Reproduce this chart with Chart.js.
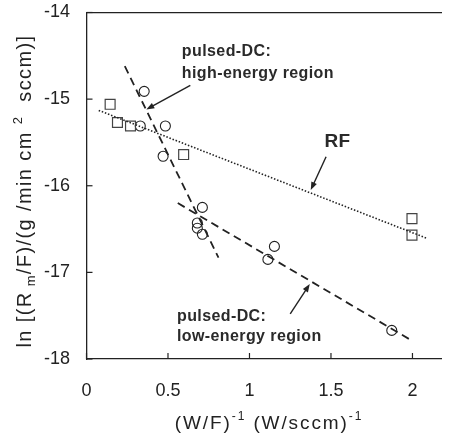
<!DOCTYPE html>
<html><head><meta charset="utf-8">
<script src="https://cdn.jsdelivr.net/npm/chart.js@4/dist/chart.umd.min.js"></script>
<style>html,body{margin:0;padding:0;background:#fff}</style>
</head><body><canvas id="c" width="450" height="438"></canvas>
<script>
// ---- data ----
const rfX = [0.145, 0.19, 0.27, 0.596, 1.997, 1.997];
const rfY = [-15.06, -15.27, -15.31, -15.64, -16.38, -16.57];
const dcX = [0.354, 0.33, 0.484, 0.47, 0.711, 0.68, 0.68, 0.711, 1.153, 1.113, 1.873];
const dcY = [-14.91, -15.31, -15.31, -15.66, -16.25, -16.43, -16.49, -16.56, -16.70, -16.85, -17.67];
const rfFitX = [0.075, 2.093];
const rfFitY = [-15.13, -16.61];
const hiFitX = [0.235, 0.81];
const hiFitY = [-14.62, -16.83];
const loFitX = [0.56, 1.98];
const loFitY = [-16.20, -17.77];
const xTicks = [0, 0.5, 1, 1.5, 2];
const yTicks = [-14, -15, -16, -17, -18];
const noteText = ["pulsed-DC:", "high-energy region", "RF", "pulsed-DC:", "low-energy region"];
const noteX = [0.585, 0.585, 1.46, 0.555, 0.555];
const noteY = [-14.453, -14.70, -15.49, -17.513, -17.744];
const noteSize = [16, 16, 19, 16, 16];
const arrowFromX = [0.637, 1.470, 1.250];
const arrowFromY = [-14.84, -15.665, -17.48];
const arrowToX = [0.367, 1.376, 1.370];
const arrowToY = [-15.12, -16.05, -17.135];

const pts = (xs, ys) => xs.map((x, i) => ({x, y: ys[i]}));
const FONT = "'Liberation Sans', Arial, sans-serif";
const INK = '#222';

const overlay = {
  id: 'overlay',
  afterDraw(chart) {
    const ctx = chart.ctx, xs = chart.scales.x, ys = chart.scales.y, a = chart.chartArea;
    ctx.save();
    // inward tick marks
    ctx.strokeStyle = INK; ctx.lineWidth = 1.2;
    xTicks.forEach(v => { const p = xs.getPixelForValue(v); ctx.beginPath(); ctx.moveTo(p, a.bottom); ctx.lineTo(p, a.bottom - 6); ctx.stroke(); });
    yTicks.forEach(v => { const p = ys.getPixelForValue(v); ctx.beginPath(); ctx.moveTo(a.left, p); ctx.lineTo(a.left + 6, p); ctx.stroke(); });
    // arrows
    ctx.fillStyle = INK; ctx.lineWidth = 1.4;
    arrowFromX.forEach((fx, i) => {
      const x0 = xs.getPixelForValue(fx), y0 = ys.getPixelForValue(arrowFromY[i]);
      const x1 = xs.getPixelForValue(arrowToX[i]), y1 = ys.getPixelForValue(arrowToY[i]);
      const ang = Math.atan2(y1 - y0, x1 - x0), L = 8, W = 3;
      ctx.beginPath(); ctx.moveTo(x0, y0); ctx.lineTo(x1 - L * 0.8 * Math.cos(ang), y1 - L * 0.8 * Math.sin(ang)); ctx.stroke();
      ctx.beginPath(); ctx.moveTo(x1, y1);
      ctx.lineTo(x1 - L * Math.cos(ang) + W * Math.sin(ang), y1 - L * Math.sin(ang) - W * Math.cos(ang));
      ctx.lineTo(x1 - L * Math.cos(ang) - W * Math.sin(ang), y1 - L * Math.sin(ang) + W * Math.cos(ang));
      ctx.closePath(); ctx.fill();
    });
    // annotations
    ctx.fillStyle = '#2a2a2a'; ctx.textAlign = 'left'; ctx.textBaseline = 'middle';
    ctx.letterSpacing = '0.4px';
    noteText.forEach((t, i) => {
      ctx.font = `bold ${noteSize[i]}px ${FONT}`;
      ctx.fillText(t, xs.getPixelForValue(noteX[i]), ys.getPixelForValue(noteY[i]));
    });
    // axis titles with sub/superscripts
    const drawRich = (segs, cx, cy, rot, ls) => {
      ctx.save(); ctx.translate(cx, cy); ctx.rotate(rot);
      ctx.textAlign = 'left'; ctx.textBaseline = 'alphabetic'; ctx.fillStyle = INK;
      ctx.letterSpacing = ls;
      let total = 0;
      segs.forEach(s => { ctx.font = `${s.size}px ${FONT}`; total += ctx.measureText(s.t).width; });
      let x = -total / 2;
      segs.forEach(s => { ctx.font = `${s.size}px ${FONT}`; ctx.fillText(s.t, x, s.dy || 0); x += ctx.measureText(s.t).width; });
      ctx.restore();
    };
    drawRich([{t: '(W/F)', size: 19}, {t: '-1', size: 12, dy: -9}, {t: ' (W/sccm)', size: 19}, {t: '-1', size: 12, dy: -9}], 269, 429, 0, '1.9px');
    drawRich([{t: 'ln [(R', size: 20}, {t: ' m', size: 13, dy: 4}, {t: '/F)/(g /min cm ', size: 20}, {t: '2', size: 13, dy: -9}, {t: '  sccm)]', size: 20}], 31, 191, -Math.PI / 2, '1.4px');
    ctx.restore();
  }
};

const zeroPad = s => { s.paddingTop = 0; s.paddingBottom = 0; s.paddingLeft = 0; s.paddingRight = 0; };

new Chart(document.getElementById('c'), {
  type: 'scatter',
  data: {
    datasets: [
      {data: pts(rfFitX, rfFitY), showLine: true, pointRadius: 0, borderColor: INK, borderWidth: 1.6, borderDash: [1.5, 1.8]},
      {data: pts(hiFitX, hiFitY), showLine: true, pointRadius: 0, borderColor: INK, borderWidth: 1.8, borderDash: [8, 5]},
      {data: pts(loFitX, loFitY), showLine: true, pointRadius: 0, borderColor: INK, borderWidth: 1.8, borderDash: [8, 5]},
      {data: pts(rfX, rfY), pointStyle: 'rect', pointRadius: 7, borderColor: '#444', borderWidth: 1.2, backgroundColor: 'rgba(0,0,0,0)'},
      {data: pts(dcX, dcY), pointStyle: 'circle', pointRadius: 5, borderColor: INK, borderWidth: 1.1, backgroundColor: 'rgba(0,0,0,0)'}
    ]
  },
  options: {
    responsive: false, animation: false, devicePixelRatio: 1,
    layout: {padding: {top: 12.5, right: 0, left: 0, bottom: 0}},
    plugins: {legend: {display: false}, tooltip: {enabled: false}},
    scales: {
      x: {type: 'linear', position: 'bottom', min: 0, max: 2.18,
          afterBuildTicks: s => { s.ticks = xTicks.map(v => ({value: v})); },
          afterFit: s => { s.height = 79; zeroPad(s); },
          grid: {display: false, drawTicks: false},
          border: {display: true, color: INK, width: 1.3},
          ticks: {font: {size: 18, family: FONT}, color: INK, padding: 21, maxRotation: 0, autoSkip: false,
                  callback: v => String(v)}},
      x2: {type: 'linear', position: 'top', min: 0, max: 2.18,
           afterFit: s => { s.height = 0; zeroPad(s); },
           grid: {display: false, drawTicks: false},
           border: {display: true, color: INK, width: 1.3},
           ticks: {display: false}},
      y: {type: 'linear', position: 'left', min: -18, max: -14,
          afterBuildTicks: s => { s.ticks = yTicks.map(v => ({value: v})); },
          afterFit: s => { s.width = 86.5; zeroPad(s); },
          grid: {display: false, drawTicks: false},
          border: {display: true, color: INK, width: 1.3},
          ticks: {font: {size: 18, family: FONT}, color: INK, padding: 16.5, autoSkip: false}}
    }
  },
  plugins: [overlay]
});
</script></body></html>
